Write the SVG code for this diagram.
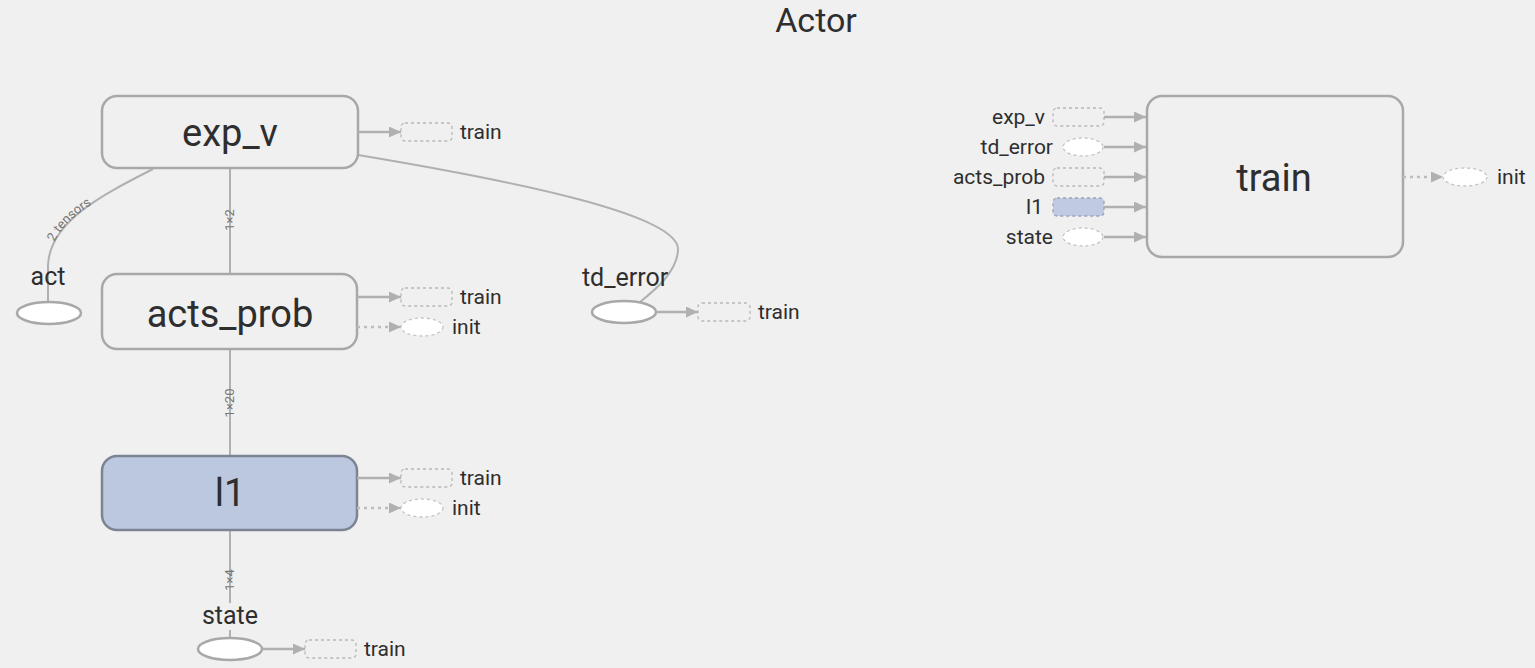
<svg xmlns="http://www.w3.org/2000/svg" xmlns:xlink="http://www.w3.org/1999/xlink" width="1535" height="668" viewBox="0 0 1535 668">
<defs>
<style>
text{font-family:Roboto,"Liberation Sans",Arial,sans-serif;fill:#2e2e2e}
.box{fill:#f0f0f0;stroke:#a8a8a8;stroke-width:2.5}
.boxl1{fill:#bcc7e0;stroke:#7c8494;stroke-width:2.5}
.big{font-size:38px;text-anchor:middle}
.lbl{font-size:25px;text-anchor:middle}
.sm{font-size:21px}
.smr{font-size:21px;text-anchor:end}
.el{fill:#fff;stroke:#a8a8a8;stroke-width:2.5}
.drect{fill:none;stroke:#b8b8b8;stroke-width:1.3;stroke-dasharray:3,3}
.dell{fill:#fff;stroke:#c4c4c4;stroke-width:1.3;stroke-dasharray:3,3}
.drectb{fill:#c0cae2;stroke:#9aa2b4;stroke-width:1.3;stroke-dasharray:3,3}
.e{fill:none;stroke:#b0b0b0;stroke-width:2}
.ref{fill:none;stroke:#b0b0b0;stroke-width:2.5;marker-end:url(#ah)}
.dot{fill:none;stroke:#bcbcbc;stroke-width:2.5;stroke-dasharray:3,4;marker-end:url(#ah)}
.el-t{font-size:13px;fill:#777;text-anchor:middle}
</style>
<marker id="ah" viewBox="0 0 12 11" refX="12" refY="5.5" markerWidth="12" markerHeight="11" markerUnits="userSpaceOnUse" orient="auto">
<path d="M0,0 L12,5.5 L0,11 z" fill="#b0b0b0"/>
</marker>
<path id="tp" d="M52,250 C58,222 97,198 140,178"/>
</defs>
<rect width="1535" height="668" fill="#f0f0f0"/>
<text x="816" y="32" style="font-size:34px;text-anchor:middle">Actor</text>

<g id="connectors">
<path class="e" d="M153,169 C100,196 50,222 48,265 L48,302"/>
<text class="el-t" style="text-anchor:start"><textPath xlink:href="#tp" startOffset="8">2 tensors</textPath></text>
<path class="e" d="M358,155 C520,182 680,215 678,250 C677,272 655,290 640,302"/>
<line class="e" x1="230" y1="168" x2="230" y2="274"/>
<text class="el-t" transform="translate(234,220) rotate(-90)">1×2</text>
<line class="e" x1="230" y1="349" x2="230" y2="456"/>
<text class="el-t" transform="translate(234,403) rotate(-90)">1×20</text>
<line class="e" x1="230" y1="531" x2="230" y2="603"/>
<line class="e" x1="230" y1="630" x2="230" y2="637"/>
<text class="el-t" transform="translate(234,580) rotate(-90)">1×4</text>
</g>

<g id="exp_v">
<rect class="box" x="102" y="96" width="256" height="72" rx="15"/>
<text class="big" x="230" y="146">exp_v</text>
<line class="ref" x1="358" y1="132" x2="401" y2="132"/>
<rect class="drect" x="401" y="123" width="51" height="18" rx="4"/>
<text class="sm" x="460" y="139">train</text>
</g>

<g id="acts_prob">
<rect class="box" x="102" y="274" width="255" height="75" rx="15"/>
<text class="big" x="230" y="327">acts_prob</text>
<line class="ref" x1="357" y1="297" x2="401" y2="297"/>
<rect class="drect" x="401" y="288" width="51" height="18" rx="4"/>
<text class="sm" x="460" y="304">train</text>
<line class="dot" x1="357" y1="327" x2="401" y2="327"/>
<ellipse class="dell" cx="422" cy="327" rx="21" ry="9"/>
<text class="sm" x="452" y="334">init</text>
</g>

<g id="l1">
<rect class="boxl1" x="102" y="456" width="255" height="74" rx="15"/>
<text class="big" x="230" y="506">l1</text>
<line class="ref" x1="357" y1="478" x2="401" y2="478"/>
<rect class="drect" x="401" y="469" width="51" height="18" rx="4"/>
<text class="sm" x="460" y="485">train</text>
<line class="dot" x1="357" y1="508" x2="401" y2="508"/>
<ellipse class="dell" cx="422" cy="508" rx="21" ry="9"/>
<text class="sm" x="452" y="515">init</text>
</g>

<g id="act">
<ellipse class="el" cx="49" cy="313" rx="32" ry="11"/>
<text class="lbl" x="48" y="285">act</text>
</g>

<g id="td_error">
<ellipse class="el" cx="624" cy="312" rx="32" ry="11"/>
<text class="lbl" x="625" y="286">td_error</text>
<line class="ref" x1="656" y1="312" x2="698" y2="312"/>
<rect class="drect" x="698" y="303" width="52" height="18" rx="4"/>
<text class="sm" x="758" y="319">train</text>
</g>

<g id="state">
<ellipse class="el" cx="230" cy="649" rx="32" ry="11"/>
<text class="lbl" x="230" y="624">state</text>
<line class="ref" x1="262" y1="649" x2="305" y2="649"/>
<rect class="drect" x="305" y="640" width="51" height="18" rx="4"/>
<text class="sm" x="364" y="656">train</text>
</g>

<g id="train">
<rect class="box" x="1147" y="96" width="256" height="161" rx="15"/>
<text class="big" x="1274" y="191">train</text>
<text class="smr" x="1045" y="124">exp_v</text>
<rect class="drect" x="1053" y="108" width="51" height="18" rx="4"/>
<line class="ref" x1="1104" y1="117" x2="1146" y2="117"/>
<text class="smr" x="1053" y="154">td_error</text>
<ellipse class="dell" cx="1083" cy="147" rx="20" ry="9"/>
<line class="ref" x1="1104" y1="147" x2="1146" y2="147"/>
<text class="smr" x="1045" y="184">acts_prob</text>
<rect class="drect" x="1053" y="168" width="51" height="18" rx="4"/>
<line class="ref" x1="1104" y1="177" x2="1146" y2="177"/>
<text class="smr" x="1043" y="214">l1</text>
<rect class="drectb" x="1053" y="198" width="51" height="18" rx="4"/>
<line class="ref" x1="1104" y1="207" x2="1146" y2="207"/>
<text class="smr" x="1053" y="244">state</text>
<ellipse class="dell" cx="1083" cy="237" rx="20" ry="9"/>
<line class="ref" x1="1104" y1="237" x2="1146" y2="237"/>
<line class="dot" x1="1403" y1="177" x2="1443" y2="177"/>
<ellipse class="dell" cx="1465" cy="177" rx="22" ry="9"/>
<text class="sm" x="1497" y="184">init</text>
</g>
</svg>
